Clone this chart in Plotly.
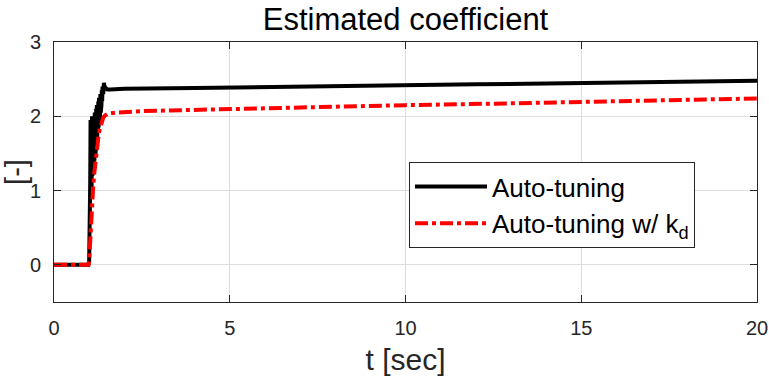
import plotly.graph_objects as go

# ---- data ----
t_black = [0.0, 0.5, 0.98, 1.00, 1.02, 1.03, 1.04, 1.05, 1.06, 1.07, 1.08, 1.09, 1.10,
           1.11, 1.12, 1.13, 1.14, 1.15, 1.16, 1.17, 1.18, 1.19, 1.20, 1.21, 1.22,
           1.23, 1.24, 1.25, 1.26, 1.27, 1.28, 1.29, 1.30, 1.31, 1.32, 1.33, 1.34,
           1.35, 1.36, 1.37, 1.38, 1.40, 1.42, 1.44, 1.47, 1.52, 1.60, 1.80, 2.0,
           4.0, 6.0, 8.0, 10.0, 12.0, 14.0, 16.0, 18.0, 20.0]
y_black = [0.0, 0.0, 0.0, 0.05, 0.55, 1.10, 1.95, 0.95, 1.90, 1.05, 2.00, 1.20, 1.85,
           1.25, 1.95, 1.30, 2.00, 1.40, 2.05, 1.45, 2.05, 1.55, 2.10, 1.60, 2.15,
           1.70, 2.15, 1.80, 2.20, 1.85, 2.25, 1.95, 2.25, 2.00, 2.30, 2.05, 2.30,
           2.15, 2.35, 2.20, 2.40, 2.30, 2.45, 2.40, 2.38, 2.36, 2.36, 2.37, 2.37,
           2.38, 2.395, 2.41, 2.42, 2.43, 2.44, 2.455, 2.465, 2.48]

t_red = [0.0, 0.5, 0.98, 1.00, 1.03, 1.06, 1.09, 1.12, 1.15, 1.18, 1.21, 1.24, 1.27,
         1.30, 1.33, 1.36, 1.40, 1.45, 1.52, 1.62, 1.80, 2.5, 5.0, 7.5, 10.0, 12.5,
         15.0, 17.5, 20.0]
y_red = [0.0, 0.0, 0.0, 0.05, 0.35, 0.65, 0.85, 1.10, 1.25, 1.40, 1.55, 1.65, 1.75,
         1.82, 1.88, 1.93, 1.98, 2.01, 2.03, 2.04, 2.05, 2.07, 2.10, 2.125, 2.15, 2.17,
         2.19, 2.215, 2.24]

x_ticks = [0, 5, 10, 15, 20]
y_ticks = [0, 1, 2, 3]

FONT = "Liberation Sans, Arial, Helvetica, sans-serif"

fig = go.Figure()
fig.add_trace(go.Scatter(
    x=t_black, y=y_black, mode="lines", name="Auto-tuning",
    line=dict(color="black", width=4),
))
fig.add_trace(go.Scatter(
    x=t_red, y=y_red, mode="lines", name="Auto-tuning w/ k<sub>d</sub>",
    line=dict(color="#ff0000", width=4, dash="13px,4px,4px,4px"),
))

axis_common = dict(
    showline=True, linecolor="#262626", linewidth=1, mirror="allticks",
    ticks="inside", ticklen=7, tickcolor="#262626", tickwidth=1,
    showgrid=True, gridcolor="#dedede", gridwidth=1, automargin=False,
    zeroline=False, tickfont=dict(family=FONT, size=20, color="#262626"),
)

fig.update_layout(
    width=769, height=377,
    margin=dict(l=54, r=12, t=42, b=75),
    paper_bgcolor="white", plot_bgcolor="white",
    font=dict(family=FONT, color="#000000"),
    title=dict(text="Estimated coefficient", x=(54 + 757) / 2 / 769, xanchor="center",
               y=1 - 19 / 377, yanchor="middle", yref="container", automargin=False,
               font=dict(family=FONT, size=31, color="black")),
    xaxis=dict(range=[0, 20], tickvals=x_ticks, ticklabelstandoff=8,
               title=dict(text="t [sec]", font=dict(family=FONT, size=30, color="#262626"),
                          standoff=10),
               **axis_common),
    yaxis=dict(range=[-0.5, 3], tickvals=y_ticks, ticklabelstandoff=8,
               title=dict(text="[-]", font=dict(family=FONT, size=29, color="#262626"),
                          standoff=10),
               **axis_common),
    legend=dict(x=(409 - 54) / 703, y=(302 - 162) / 260, xanchor="left", yanchor="top",
                bgcolor="white", bordercolor="#262626", borderwidth=1,
                font=dict(family=FONT, size=26, color="black"),
                itemwidth=72, tracegroupgap=0),
    showlegend=True,
)

fig.write_html("out.html", config={"displayModeBar": False},
               post_script="document.body.style.margin='0';document.body.style.overflow='hidden';")
